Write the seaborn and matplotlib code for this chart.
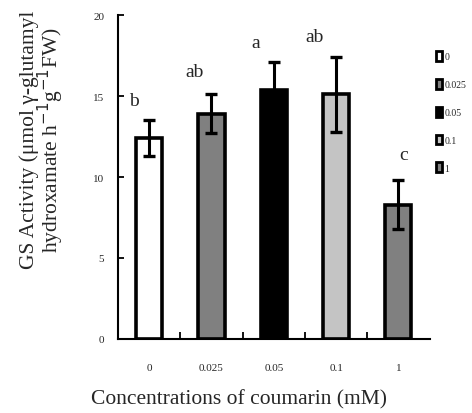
import matplotlib
matplotlib.use("Agg")
import matplotlib.pyplot as plt
import seaborn as sns
import pandas as pd
from matplotlib.patches import Patch

categories = ["0", "0.025", "0.05", "0.1", "1"]
values = [12.4, 13.9, 15.4, 15.1, 8.3]
errors = [1.1, 1.2, 1.7, 2.3, 1.5]
letters = ["b", "ab", "a", "ab", "c"]
letter_x = [-0.24, 0.73, 1.71, 2.65, 4.08]
letter_y = [14.7, 16.5, 18.3, 18.7, 11.4]
colors = ["#ffffff", "#808080", "#000000", "#c4c4c4", "#808080"]
yticks = [0, 5, 10, 15, 20]

sns.set_style("white")
plt.rcParams["font.family"] = ["Liberation Serif", "DejaVu Serif"]

df = pd.DataFrame({"conc": categories, "val": values})

fig = plt.figure(figsize=(4.72, 4.14), dpi=100)
ax = fig.add_axes([0.25, 0.179, 0.66, 0.782])

sns.barplot(data=df, x="conc", y="val", hue="conc", palette=colors,
            order=categories, hue_order=categories, width=0.42,
            edgecolor="black", linewidth=2.6, dodge=False, legend=False,
            errorbar=None, ax=ax)

ax.errorbar(range(len(categories)), values, yerr=errors, fmt="none",
            ecolor="black", elinewidth=2.2, capsize=4, capthick=2.4, zorder=5)

for x, y, t in zip(letter_x, letter_y, letters):
    ax.text(x, y, t, ha="center", va="center", fontsize=14)

ax.set_xlim(-0.5, 4.5)
ax.set_ylim(0, 20)
ax.set_yticks(yticks)
ax.set_yticklabels([str(v) for v in yticks], fontsize=8)
ax.set_xticks(range(len(categories)))
ax.set_xticklabels(categories, fontsize=8)
ax.tick_params(axis="x", which="major", bottom=True, length=0, pad=17)
ax.set_xticks([0.5, 1.5, 2.5, 3.5], minor=True)
ax.tick_params(axis="x", which="minor", bottom=True, direction="in", length=5,
               width=1.3, color="black")
ax.tick_params(axis="y", left=True, direction="in", length=4, width=1.3,
               color="black", pad=10)

for s in ["top", "right"]:
    ax.spines[s].set_visible(False)
for s in ["left", "bottom"]:
    ax.spines[s].set_color("black")
    ax.spines[s].set_linewidth(1.5)

ax.set_xlabel("Concentrations of coumarin (mM)", fontsize=15.5)
ax.xaxis.set_label_coords(0.39, -0.155)
ax.set_ylabel("GS Activity (\u03bcmol \u03b3-glutamyl\nhydroxamate h$^{-1}$g$^{-1}$FW)",
              fontsize=15.5, linespacing=0.85)
ax.yaxis.set_label_coords(-0.168, 0.617)

handles = [Patch(facecolor=c, edgecolor="black", linewidth=2.0) for c in colors]
fig.legend(handles, categories, loc="upper left", bbox_to_anchor=(0.905, 0.895),
           frameon=False, fontsize=7, handlelength=0.6, handleheight=1.2,
           handletextpad=0.3, labelspacing=1.8)

fig.savefig("out.png", dpi=100)
